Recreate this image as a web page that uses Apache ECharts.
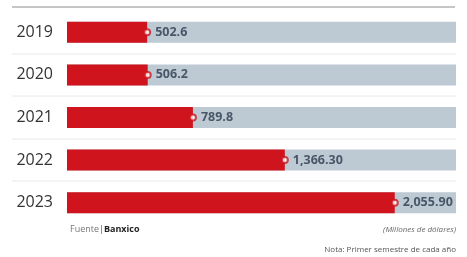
<!DOCTYPE html>
<html>
<head>
<meta charset="utf-8">
<script src="https://cdn.jsdelivr.net/npm/echarts@6/dist/echarts.min.js"></script>
<style>
  html, body { margin: 0; padding: 0; background: #fff; }
  #chart { width: 467px; height: 257px; }
</style>
</head>
<body>
<div id="chart"></div>
<script>
var years = ['2019', '2020', '2021', '2022', '2023'];
var values = [502.6, 506.2, 789.8, 1366.3, 2055.9];
var valueLabels = ['502.6', '506.2', '789.8', '1,366.30', '2,055.90'];
var axisMax = 2440;

var red = '#d0141d';
var grey = '#bdc9d3';

var chart = echarts.init(document.getElementById('chart'));

// separadores entre filas
var sepY = [54, 96, 139, 181];
var graphics = [
  {
    type: 'line',
    shape: { x1: 12, y1: 7, x2: 455, y2: 7 },
    style: { stroke: '#c6c6c6', lineWidth: 2 }
  },
  {
    type: 'text', left: 70, top: 225,
    style: {
      text: '{a|Fuente}{b||}{c|Banxico}',
      rich: {
        a: { fontSize: 9, fill: '#777', fontFamily: 'Open Sans' },
        b: { fontSize: 9, fill: red, fontFamily: 'Open Sans' },
        c: { fontSize: 9, fill: '#222', fontWeight: 'bold', fontFamily: 'Open Sans' }
      }
    }
  },
  {
    type: 'text', right: 11, top: 226,
    style: { text: '(Millones de dólares)', fontSize: 8, fontStyle: 'italic', fill: '#666', fontFamily: 'Open Sans' }
  },
  {
    type: 'text', right: 11, top: 246,
    style: { text: 'Nota: Primer semestre de cada año', fontSize: 8, fill: '#555', fontFamily: 'Open Sans' }
  }
];
sepY.forEach(function (y) {
  graphics.push({
    type: 'line',
    shape: { x1: 12, y1: y, x2: 456, y2: y },
    style: { stroke: '#e8e8e8', lineWidth: 1 }
  });
});

var option = {
  animation: false,
  backgroundColor: '#fff',
  grid: { left: 67, right: 11, top: 11, height: 213 },
  xAxis: {
    type: 'value', min: 0, max: axisMax, show: false
  },
  yAxis: {
    type: 'category',
    data: years,
    inverse: true,
    axisLine: { show: false },
    axisTick: { show: false },
    splitLine: { show: false },
    axisLabel: {
      margin: 14,
      fontSize: 16,
      color: '#333',
      fontFamily: 'Open Sans'
    }
  },
  graphic: graphics,
  series: [
    {
      type: 'bar',
      data: values,
      barWidth: 21,
      showBackground: true,
      backgroundStyle: { color: grey },
      itemStyle: { color: red }
    },
    {
      type: 'scatter',
      data: values.map(function (v, i) { return [v, years[i]]; }),
      symbol: 'circle',
      symbolSize: 6,
      itemStyle: { color: '#fff', borderColor: red, borderWidth: 2 },
      label: {
        show: true,
        position: 'right',
        distance: 4,
        formatter: function (p) { return valueLabels[p.dataIndex]; },
        fontSize: 12.5,
        fontWeight: 'bold',
        color: '#2b3a4c',
        fontFamily: 'Open Sans'
      },
      z: 3
    }
  ]
};

chart.setOption(option);
</script>
</body>
</html>
